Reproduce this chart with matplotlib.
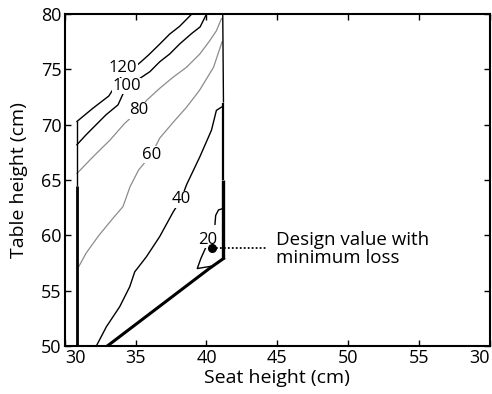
import matplotlib
matplotlib.use("Agg")
import matplotlib.pyplot as plt

plt.rcParams['font.family'] = ['Open Sans', 'DejaVu Sans']

# ---- data ----
x_ticks = [30, 35, 40, 45, 50, 55, 60]
x_tick_labels = ['30', '35', '40', '45', '50', '55', '30']
y_ticks = [50, 55, 60, 65, 70, 75, 80]

c120_x = [30.85, 31.98, 33.1, 34.1, 35.2, 35.9, 36.7, 37.4, 38.1, 38.95]
c120_y = [70.3, 71.5, 72.6, 74.6, 75.5, 76.3, 77.3, 78.2, 78.9, 80.0]

c100_x = [30.85, 31.5, 32.2, 32.9, 33.75, 34.35, 35.3, 36.0, 36.7, 37.4, 38.1, 38.95, 39.55, 40.0]
c100_y = [68.2, 69.1, 70.0, 70.9, 71.8, 73.5, 74.2, 74.8, 75.7, 76.4, 77.3, 78.25, 78.85, 80.0]

c80_x = [30.85, 31.98, 33.17, 34.2, 35.23, 35.76, 36.7, 37.64, 38.59, 39.53, 40.23, 40.7, 41.06]
c80_y = [65.6, 67.1, 68.6, 70.1, 71.3, 72.2, 73.3, 74.3, 75.2, 76.4, 77.6, 78.5, 79.6]

c60_x = [30.9, 31.5, 32.4, 33.3, 34.1, 34.6, 35.2, 36.1, 36.7, 37.7, 38.6, 39.5, 40.5, 41.1]
c60_y = [57.0, 58.4, 60.0, 61.4, 62.6, 64.4, 65.9, 67.3, 68.8, 70.3, 71.6, 73.1, 75.2, 77.5]

c40_x = [32.22, 32.93, 33.87, 34.58, 34.93, 35.76, 36.7, 37.64, 38.2, 38.6, 39.53, 40.35, 40.7, 41.06]
c40_y = [50.0, 51.74, 53.55, 55.36, 56.7, 58.07, 59.9, 62.1, 63.25, 64.6, 67.1, 69.5, 71.3, 71.6]

c20a_x = [40.6, 40.65, 40.85, 41.1]
c20a_y = [61.0, 61.8, 62.3, 62.4]
c20b_x = [39.95, 39.6, 39.35, 40.3]
c20b_y = [58.9, 57.9, 57.0, 57.2]

contour_levels = ['120', '100', '80', '60', '40', '20']
label_x = [34.1, 34.35, 35.23, 36.1, 38.2, 40.12]
label_y = [75.1, 73.5, 71.3, 67.3, 63.25, 59.6]

left_x = [30.85, 30.85, 30.85]
left_y = [50.0, 64.5, 70.3]
right_x = [41.2, 41.2, 41.2, 41.15]
right_y = [57.9, 65.0, 72.0, 80.0]
bottom_x = [33.0, 40.2, 41.2]
bottom_y = [50.0, 57.0, 57.9]

design_x = 40.42
design_y = 58.85
pointer_end_x = 44.3

# ---- figure ----
fig = plt.figure(figsize=(4.92, 3.94), dpi=100)
ax = fig.add_axes([0.132, 0.122, 0.863, 0.842])

black = 'black'
gray = '#8c8c8c'

ax.plot(c120_x, c120_y, color=black, lw=1.0)
ax.plot(c100_x, c100_y, color=black, lw=1.0)
ax.plot(c80_x, c80_y, color=gray, lw=0.9)
ax.plot(c60_x, c60_y, color=gray, lw=0.9)
ax.plot(c40_x, c40_y, color=black, lw=1.0)
ax.plot(c20a_x, c20a_y, color=black, lw=1.0)
ax.plot(c20b_x, c20b_y, color=black, lw=1.0)

# boundaries
ax.plot(left_x[:2], left_y[:2], color=black, lw=2.0, solid_capstyle='butt')
ax.plot(left_x[1:], left_y[1:], color=black, lw=1.0, solid_capstyle='butt')
ax.plot(right_x[:2], right_y[:2], color=black, lw=2.4, solid_capstyle='butt')
ax.plot(right_x[1:3], right_y[1:3], color=black, lw=1.6, solid_capstyle='butt')
ax.plot(right_x[2:], right_y[2:], color=black, lw=1.0, solid_capstyle='butt')
ax.plot(bottom_x, bottom_y, color=black, lw=2.2, solid_joinstyle='round')

for t, lx, ly in zip(contour_levels, label_x, label_y):
    ax.text(lx, ly, t, fontsize=12, ha='center', va='center', zorder=5,
            bbox=dict(boxstyle='square,pad=0.02', fc='white', ec='none'))

# design point
ax.plot([design_x, pointer_end_x], [design_y, design_y], color=black, lw=1.3,
        linestyle=(0, (1, 1.2)), zorder=6)
ax.plot([design_x], [design_y], 'o', color=black, markersize=5.5, zorder=7)
ax.text(44.9, design_y - 0.05, 'Design value with\nminimum loss', fontsize=13.5,
        ha='left', va='center', linespacing=1.0)

ax.set_xlim(30, 60)
ax.set_ylim(50, 80)
ax.set_xticks(x_ticks)
ax.set_xticklabels(x_tick_labels)
ax.set_yticks(y_ticks)
ax.tick_params(direction='in', length=4, width=1.0, top=True, right=True,
               labelsize=13, pad=2.5)
ax.get_xticklabels()[0].set_horizontalalignment('left')
ax.get_xticklabels()[-1].set_horizontalalignment('right')
for s in ax.spines.values():
    s.set_linewidth(1.5)

ax.set_xlabel('Seat height (cm)', fontsize=14, labelpad=1)
ax.set_ylabel('Table height (cm)', fontsize=14, labelpad=9)

fig.savefig('out.png', dpi=100)
